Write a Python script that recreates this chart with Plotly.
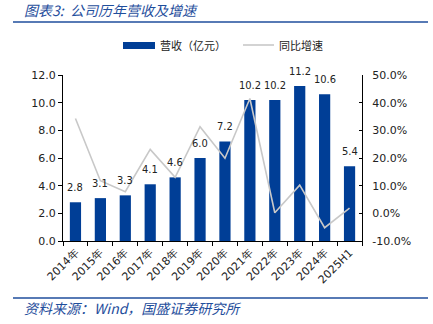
import plotly.graph_objects as go

categories = ["2014年", "2015年", "2016年", "2017年", "2018年", "2019年",
              "2020年", "2021年", "2022年", "2023年", "2024年", "2025H1"]
revenue = [2.8, 3.1, 3.3, 4.1, 4.6, 6.0, 7.2, 10.2, 10.2, 11.2, 10.6, 5.4]
growth = [34.3, 11.8, 7.8, 23.1, 13.0, 31.3, 19.9, 41.5, 0.2, 10.2, -5.2, 1.9]

left_ticks = [0, 2, 4, 6, 8, 10, 12]
right_ticks = [-10, 0, 10, 20, 30, 40, 50]

W, H = 433, 324
L, R, T, B = 63, 362, 75, 241

def px(x):
    return (x - L) / (R - L)

def py(y):
    return (B - y) / (B - T)

BLUE = "#003E96"
GRAY = "#C8C8C8"
TXT_BLUE = "#1F4E9C"
FONT = "DejaVu Sans"
FONT_C = "DejaVu Sans Condensed, DejaVu Sans"
CJK = "Noto Sans CJK SC"

fig = go.Figure()
fig.add_trace(go.Bar(
    x=categories, y=revenue, name="营收（亿元）",
    marker=dict(color=BLUE, line=dict(width=0)),
    width=0.45, yaxis="y",
))
fig.add_trace(go.Scatter(
    x=categories, y=growth, name="同比增速", mode="lines",
    line=dict(color=GRAY, width=1.6), yaxis="y2",
))

annotations = [
    dict(x=c, y=v, xref="x", yref="y", text=f"{v:.1f}", yanchor="bottom",
         yshift=6, showarrow=False, font=dict(family=FONT_C, size=11, color="#222"))
    for c, v in zip(categories, revenue)
]
annotations += [
    dict(text="<i>图表3:  公司历年营收及增速</i>", xref="paper", yref="paper",
         x=px(22), y=py(10), xanchor="left", yanchor="middle", showarrow=False,
         font=dict(family=CJK, size=14, color=TXT_BLUE)),
    dict(text="<i>资料来源：Wind，国盛证券研究所</i>", xref="paper", yref="paper",
         x=px(22), y=py(308), xanchor="left", yanchor="middle", showarrow=False,
         font=dict(family=CJK, size=14, color=TXT_BLUE)),
    dict(text="营收（亿元）", xref="paper", yref="paper",
         x=px(158), y=py(45), xanchor="left", yanchor="middle", showarrow=False,
         font=dict(family=CJK, size=11, color="#222")),
    dict(text="同比增速", xref="paper", yref="paper",
         x=px(277), y=py(45), xanchor="left", yanchor="middle", showarrow=False,
         font=dict(family=CJK, size=11, color="#222")),
]

shapes = [
    dict(type="line", xref="paper", yref="paper", x0=px(13), x1=px(428),
         y0=py(22), y1=py(22), line=dict(color=TXT_BLUE, width=1.5)),
    dict(type="line", xref="paper", yref="paper", x0=px(13), x1=px(428),
         y0=py(298), y1=py(298), line=dict(color=TXT_BLUE, width=1.5)),
    # legend keys
    dict(type="rect", xref="paper", yref="paper", x0=px(123), x1=px(155),
         y0=py(49), y1=py(42), fillcolor=BLUE, line=dict(width=0)),
    dict(type="line", xref="paper", yref="paper", x0=px(243), x1=px(274),
         y0=py(45), y1=py(45), line=dict(color=GRAY, width=1.6)),
]

fig.update_layout(
    width=W, height=H,
    margin=dict(l=L, r=W - R, t=T, b=H - B),
    paper_bgcolor="white", plot_bgcolor="white",
    showlegend=False,
    xaxis=dict(
        type="category", tickangle=-45, showline=True, linecolor="black", linewidth=1,
        ticks="outside", ticklen=4, tickcolor="black", tickson="boundaries",
        tickfont=dict(family=FONT, size=11, color="#222"), showgrid=False,
    ),
    yaxis=dict(
        range=[0, 12], tickvals=left_ticks, ticktext=[f"{v:.1f}" for v in left_ticks],
        showline=True, linecolor="black", linewidth=1, ticks="outside", ticklen=4,
        tickcolor="black", showgrid=False, zeroline=False,
        tickfont=dict(family=FONT, size=11, color="#222"),
    ),
    yaxis2=dict(
        range=[-10, 50], tickvals=right_ticks, ticktext=[f"{v:.1f}%" for v in right_ticks],
        overlaying="y", side="right", showline=True, linecolor="black", linewidth=1,
        ticks="inside", ticklen=3, tickcolor="black", showgrid=False, zeroline=False,
        ticklabelstandoff=7,
        tickfont=dict(family=FONT, size=11, color="#222"),
    ),
    annotations=annotations,
    shapes=shapes,
)

fig.write_html("out.html")
